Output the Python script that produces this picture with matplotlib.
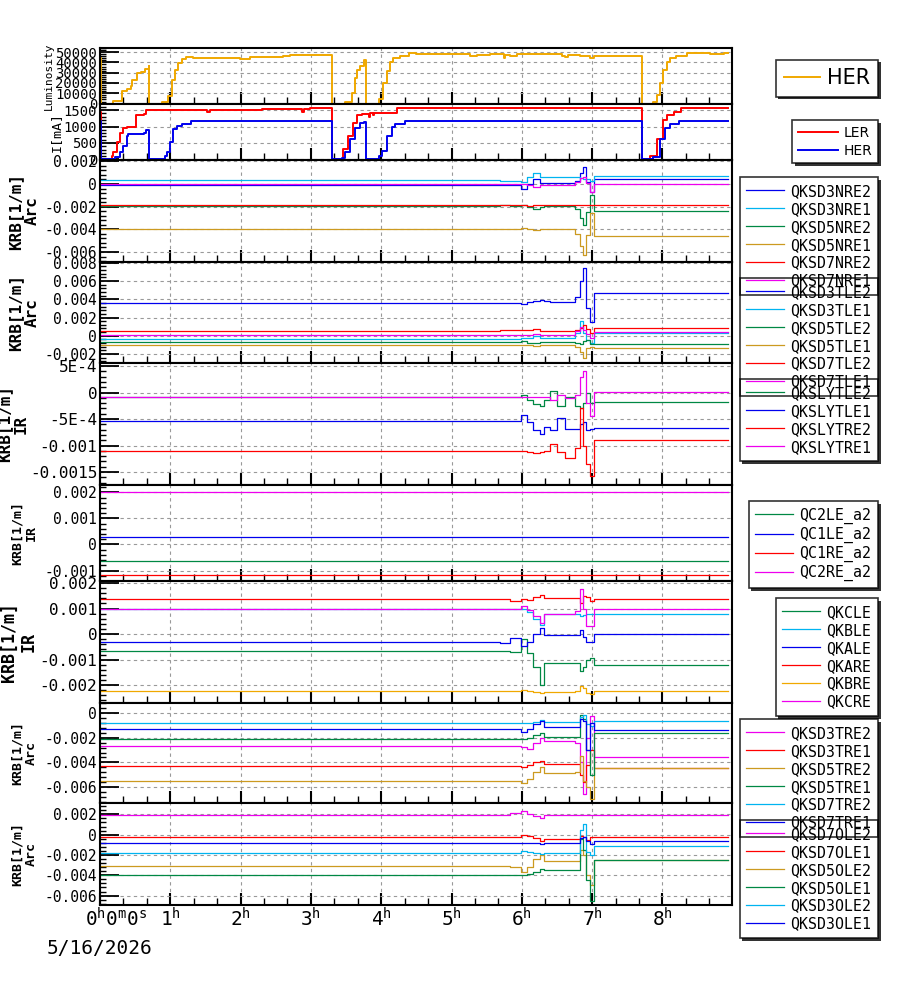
import matplotlib
matplotlib.use('Agg')
import matplotlib.pyplot as plt
from matplotlib.patches import Rectangle
from matplotlib.ticker import MultipleLocator, AutoMinorLocator, FuncFormatter
from matplotlib.transforms import ScaledTranslation
import numpy as np

plt.rcParams['font.family'] = ['DejaVu Sans Mono', 'DejaVu Sans']

BLUE = '#0000ee'
CYAN = '#00b4f0'
GREEN = '#008844'
GOLD = '#cc9a20'
ORANGE = '#f0a800'
RED = '#ff0000'
MAGENTA = '#ee00ee'

# ---- luminosity and beam currents (time in hours)
LUM_T = [0.00, 0.01, 0.19, 0.31, 0.38, 0.44, 0.46, 0.52, 0.59, 0.64, 0.69, 0.70,
         0.88, 0.97, 1.02, 1.07, 1.11, 1.16, 1.23, 1.33, 1.99, 2.13, 2.61, 2.70,
         3.30, 3.49, 3.58, 3.63, 3.65, 3.70, 3.75, 3.78, 3.97, 4.03, 4.08, 4.13,
         4.17, 4.27, 4.39, 4.50, 5.03, 5.26, 5.36, 5.55, 5.74, 5.76, 5.83, 5.93,
         6.57, 6.61, 6.66, 6.83, 6.97, 7.02, 7.71, 7.87, 7.92, 7.97, 8.01, 8.06,
         8.11, 8.20, 8.35, 8.68, 8.87, 8.93]
LUM_V = [44000, 0, 2700, 12000, 14500, 17000, 23000, 30000, 31000, 33500, 37000, 0,
         2000, 7400, 23000, 33000, 39000, 43000, 45500, 44200, 43200, 45200, 46400, 47400,
         0, 2000, 10000, 25000, 33000, 37000, 42000, 0, 4000, 20000, 32000, 40000,
         44000, 46000, 49300, 48300, 47800, 46000, 47000, 47800, 44000, 47500, 46500, 47800,
         46500, 45000, 47000, 46500, 44000, 46500, 0, 2000, 8000, 20000, 33000, 40000,
         44000, 46000, 49000, 48300, 49000, 49000]

LER_T = [0.00, 0.01, 0.17, 0.19, 0.24, 0.28, 0.33, 0.38, 0.51, 0.62, 0.66, 1.52,
         1.56, 2.30, 2.88, 2.90, 2.99, 3.30, 3.41, 3.46, 3.53, 3.60, 3.65, 3.72,
         3.83, 3.84, 3.88, 3.90, 4.22, 7.71, 7.82, 7.92, 8.01, 8.06, 8.16, 8.27, 8.93]
LER_V = [1450, 0, 100, 230, 520, 815, 965, 1000, 1360, 1390, 1500, 1440,
         1500, 1530, 1460, 1530, 1560, 0, 0, 320, 715, 1110, 1360, 1380,
         1280, 1430, 1360, 1430, 1560, 0, 100, 615, 1210, 1360, 1460, 1560, 1560]

HER_T = [0.00, 0.01, 0.21, 0.28, 0.33, 0.38, 0.40, 0.62, 0.66, 0.70, 0.92, 0.95,
         1.00, 1.04, 1.09, 1.16, 1.30, 3.30, 3.44, 3.49, 3.56, 3.63, 3.70, 3.76,
         3.78, 3.97, 4.01, 4.08, 4.15, 4.20, 4.34, 7.71, 7.87, 7.97, 8.04, 8.11,
         8.23, 8.93]
HER_V = [1180, 0, 80, 230, 400, 715, 780, 800, 900, 0, 100, 230,
         520, 915, 1010, 1065, 1180, 0, 50, 220, 615, 965, 1110, 1130,
         0, 100, 250, 715, 990, 1090, 1180, 0, 80, 615, 965, 1090,
         1180, 1180]

# ---- skew quadrupole strengths KRB [1e-3 / m] on a common time grid
KT = [0.00, 5.69, 5.83, 5.99, 6.07, 6.16, 6.26, 6.31, 6.40, 6.50, 6.61, 6.76,
      6.83, 6.87, 6.92, 6.97, 7.02, 8.93]

NR_NAMES = ['QKSD3NRE2', 'QKSD3NRE1', 'QKSD5NRE2', 'QKSD5NRE1', 'QKSD7NRE2', 'QKSD7NRE1']
NR_VALS = [
    [-0.10, -0.10, -0.10, -0.40, 0.00, 0.40, 0.10, 0.10, 0.10, 0.10, 0.10, 0.30, 1.00, 1.50, 0.20, -0.70, 0.40, 0.40],
    [0.35, 0.30, 0.30, 0.20, 0.60, 1.00, 0.65, 0.65, 0.65, 0.65, 0.65, 0.60, 0.50, 0.45, 0.40, 0.30, 0.70, 0.70],
    [-1.92, -1.85, -1.92, -1.85, -2.00, -2.20, -2.00, -1.90, -1.90, -1.90, -1.90, -2.20, -3.00, -3.60, -2.50, -1.00, -2.40, -2.40],
    [-3.93, -3.93, -3.93, -3.88, -4.00, -4.10, -4.00, -3.95, -3.95, -3.95, -3.95, -4.40, -5.50, -6.30, -4.50, -2.60, -4.60, -4.60],
    [-1.88, -1.88, -1.88, -1.85, -1.90, -1.88, -1.88, -1.88, -1.88, -1.88, -1.88, -1.88, -1.88, -1.88, -1.88, -1.88, -1.88, -1.88],
    [0.00, 0.00, 0.00, 0.00, -0.10, -0.25, -0.05, -0.05, -0.05, -0.05, -0.05, 0.20, 0.50, 0.60, 0.10, -0.70, 0.00, 0.00],
]

TL_NAMES = ['QKSD3TLE2', 'QKSD3TLE1', 'QKSD5TLE2', 'QKSD5TLE1', 'QKSD7TLE2', 'QKSD7TLE1']
TL_VALS = [
    [3.56, 3.56, 3.56, 3.50, 3.65, 3.80, 3.95, 3.85, 3.72, 3.72, 3.72, 4.30, 6.00, 7.40, 3.00, 1.50, 4.68, 4.68],
    [-0.37, -0.37, -0.37, -0.30, -0.20, -0.05, -0.25, -0.20, -0.20, -0.20, -0.20, 0.30, 1.60, 0.30, -0.50, -0.80, 0.30, 0.30],
    [-0.64, -0.64, -0.64, -0.55, -0.75, -0.85, -0.70, -0.70, -0.70, -0.70, -0.70, -0.80, -0.90, -0.60, -0.50, -0.90, -0.86, -0.86],
    [-1.00, -1.00, -1.00, -1.00, -1.00, -1.10, -1.00, -1.00, -1.00, -1.00, -1.00, -1.20, -1.80, -2.40, -1.30, -1.20, -1.38, -1.38],
    [0.56, 0.60, 0.60, 0.60, 0.65, 0.75, 0.55, 0.55, 0.55, 0.55, 0.55, 0.60, 0.90, 1.20, 0.70, 0.30, 0.87, 0.87],
    [0.10, 0.10, 0.10, 0.10, 0.12, 0.15, 0.05, 0.05, 0.05, 0.05, 0.05, 0.50, 1.00, 0.60, 0.20, -0.30, 0.37, 0.37],
]

SLY_NAMES = ['QKSLYTLE2', 'QKSLYTLE1', 'QKSLYTRE2', 'QKSLYTRE1']
SLY_VALS = [
    [-0.08, -0.08, -0.08, -0.05, -0.15, -0.22, -0.26, -0.15, 0.02, -0.25, -0.08, -0.25, -0.30, -0.20, 0.00, -0.20, -0.18, -0.18],
    [-0.54, -0.54, -0.54, -0.43, -0.55, -0.70, -0.79, -0.65, -0.70, -0.49, -0.68, -0.68, -0.60, -0.55, -0.70, -0.68, -0.67, -0.67],
    [-1.11, -1.11, -1.11, -1.11, -1.12, -1.15, -1.13, -1.10, -0.98, -1.12, -1.23, -1.04, -0.29, -1.00, -1.35, -1.58, -0.89, -0.89],
    [-0.08, -0.08, -0.08, -0.08, -0.08, -0.08, -0.08, -0.08, -0.15, -0.05, -0.10, -0.05, 0.30, 0.40, -0.20, -0.45, 0.01, 0.01],
]

QC_T = [0.00, 8.93]
QC_NAMES = ['QC2LE_a2', 'QC1LE_a2', 'QC1RE_a2', 'QC2RE_a2']
QC_VALS = [[-0.65, -0.65], [0.28, 0.28], [-1.18, -1.18], [2.01, 2.01]]

QK_NAMES = ['QKCLE', 'QKBLE', 'QKALE', 'QKARE', 'QKBRE', 'QKCRE']
QK_VALS = [
    [-0.67, -0.65, -0.70, -0.20, -0.75, -1.30, -2.00, -1.12, -1.12, -1.12, -1.12, -1.12, -1.45, -1.30, -1.00, -0.95, -1.22, -1.22],
    [1.00, 1.00, 1.00, 1.00, 0.85, 0.60, 0.35, 0.78, 0.78, 0.78, 0.78, 0.78, 0.72, 0.75, 0.80, 0.80, 0.77, 0.77],
    [-0.30, -0.35, -0.15, -0.45, -0.30, 0.00, 0.25, -0.05, -0.05, -0.05, -0.05, -0.05, 0.15, -0.10, -0.30, -0.30, 0.00, 0.00],
    [1.36, 1.36, 1.30, 1.38, 1.35, 1.45, 1.55, 1.40, 1.40, 1.40, 1.40, 1.40, 1.20, 1.50, 1.45, 1.30, 1.36, 1.36],
    [-2.22, -2.22, -2.22, -2.18, -2.22, -2.28, -2.32, -2.25, -2.25, -2.25, -2.25, -2.22, -2.05, -2.10, -2.30, -2.35, -2.22, -2.22],
    [1.00, 1.00, 1.00, 1.10, 0.95, 0.70, 0.45, 0.78, 0.78, 0.78, 0.78, 0.90, 1.75, 1.00, 0.30, 0.30, 1.00, 1.00],
]

TR_NAMES = ['QKSD3TRE2', 'QKSD3TRE1', 'QKSD5TRE2', 'QKSD5TRE1', 'QKSD7TRE2', 'QKSD7TRE1']
TR_VALS = [
    [-2.64, -2.65, -2.65, -2.75, -2.90, -2.40, -2.00, -2.30, -2.30, -2.30, -2.30, -2.40, -4.00, -6.60, -2.00, -0.20, -3.60, -3.60],
    [-4.28, -4.28, -4.28, -4.35, -4.20, -4.00, -3.90, -4.10, -4.10, -4.10, -4.10, -4.10, -5.00, -5.60, -4.20, -3.00, -4.50, -4.50],
    [-5.50, -5.50, -5.50, -5.70, -5.40, -4.80, -4.40, -4.85, -4.85, -4.85, -4.85, -4.80, -3.50, -5.50, -6.00, -7.00, -4.50, -4.50],
    [-2.12, -2.12, -2.12, -2.10, -2.00, -1.80, -1.60, -1.95, -1.95, -1.95, -1.95, -1.90, -0.10, -0.50, -3.00, -5.00, -1.60, -1.60],
    [-0.82, -0.82, -0.82, -0.80, -0.80, -0.70, -0.52, -0.75, -0.75, -0.75, -0.75, -0.70, -0.30, -0.10, -0.90, -1.00, -0.65, -0.65],
    [-1.28, -1.30, -1.30, -1.55, -1.30, -0.90, -0.60, -1.10, -1.10, -1.10, -1.10, -1.10, -0.50, -0.60, -3.00, -0.80, -1.40, -1.40],
]

OL_NAMES = ['QKSD7OLE2', 'QKSD7OLE1', 'QKSD5OLE2', 'QKSD5OLE1', 'QKSD3OLE2', 'QKSD3OLE1']
OL_VALS = [
    [1.94, 1.94, 2.15, 2.35, 2.00, 1.85, 1.62, 1.94, 1.94, 1.94, 1.94, 1.94, 1.94, 1.94, 1.94, 1.94, 1.94, 1.94],
    [-0.20, -0.20, -0.20, -0.05, -0.15, -0.30, -0.65, -0.45, -0.45, -0.45, -0.45, -0.45, -0.10, -0.20, -0.50, -0.20, -0.20, -0.20],
    [-3.08, -3.10, -3.15, -3.70, -3.20, -2.40, -2.00, -2.60, -2.60, -2.60, -2.60, -2.60, -1.50, -2.00, -4.00, -5.00, -2.50, -2.50],
    [-3.97, -3.97, -3.97, -3.95, -3.85, -3.65, -3.35, -3.50, -3.50, -3.50, -3.50, -3.50, -0.40, -1.50, -4.50, -6.50, -2.50, -2.50],
    [-1.84, -1.84, -1.84, -1.65, -1.75, -1.85, -1.95, -1.80, -1.80, -1.80, -1.80, -1.80, 0.50, 1.10, -1.70, -2.00, -1.10, -1.10],
    [-0.85, -0.85, -0.85, -0.85, -0.85, -0.85, -0.90, -0.85, -0.85, -0.85, -0.85, -0.85, -0.30, -0.20, -0.60, -0.90, -0.60, -0.60],
]

W, H = 900, 984
fig = plt.figure(figsize=(W / 100, H / 100), dpi=100)
LEFT, RIGHT = 100, 732
EDGES = [48, 104, 160, 262, 363, 485, 581, 703, 803, 905]
legends = []


def krb_fmt(v, pos):
    if abs(v) < 1e-12:
        return '0'
    if abs(v) < 1e-3 - 1e-12:
        e = int(np.floor(np.log10(abs(v))))
        return '%gE%d' % (round(v / 10 ** e, 3), e)
    return '%g' % round(v, 6)


def make_ax(i):
    top, bot = EDGES[i], EDGES[i + 1]
    ax = fig.add_axes([LEFT / W, 1 - bot / H, (RIGHT - LEFT) / W, (bot - top) / H])
    ax.set_xlim(0, 8.99)
    ax.xaxis.set_major_locator(MultipleLocator(1))
    ax.xaxis.set_minor_locator(MultipleLocator(1 / 3))
    ax.tick_params(which='both', direction='in', top=False, right=False, labelbottom=False)
    ax.tick_params(axis='y', which='major', length=14, width=1.3, pad=2)
    ax.tick_params(axis='y', which='minor', length=4.5, width=1.0)
    ax.tick_params(axis='x', which='major', length=8.5, width=1.5)
    ax.tick_params(axis='x', which='minor', length=5, width=1.0)
    for s in ax.spines.values():
        s.set_linewidth(1.5)
    ax.grid(True, which='major', color='#999999', linestyle=(0, (3, 3)), linewidth=0.8)
    return ax


def add_legend(ax, top_px, size, family='DejaVu Sans Mono', **kw):
    opts = dict(labelspacing=0.2, borderpad=0.45, handlelength=2.55, handletextpad=0.4)
    opts.update(kw)
    leg = ax.legend(loc='upper right', bbox_to_anchor=(878 / W, 1 - top_px / H),
                    bbox_transform=fig.transFigure, borderaxespad=0, fancybox=False,
                    prop={'family': family, 'size': size}, **opts)
    fr = leg.get_frame()
    fr.set_facecolor('none')
    fr.set_edgecolor('black')
    fr.set_linewidth(1.2)
    legends.append(leg)


def krb_panel(i, names, vals, colors, lim, step, label, lsize, lx, tsize, leg_top):
    ax = make_ax(i)
    for name, v, c in zip(names, vals, colors):
        ax.plot(KT if len(v) == len(KT) else QC_T, np.array(v) * 1e-3, color=c, lw=0.9,
                drawstyle='steps-post', label=name)
    ax.set_ylim(lim[0] * 1e-3, lim[1] * 1e-3)
    ax.yaxis.set_major_locator(MultipleLocator(step))
    ax.yaxis.set_minor_locator(AutoMinorLocator(5))
    ax.yaxis.set_major_formatter(FuncFormatter(krb_fmt))
    ax.tick_params(axis='y', labelsize=tsize)
    ax.set_ylabel(label, fontsize=lsize, fontweight='bold', linespacing=1.1)
    ax.yaxis.set_label_coords(lx, 0.5)
    add_legend(ax, leg_top, 10.7)
    return ax


# luminosity
ax1 = make_ax(0)
ax1.plot(LUM_T, LUM_V, color=ORANGE, lw=1.4, drawstyle='steps-post', label='HER')
ax1.set_ylim(-400, 54000)
ax1.yaxis.set_major_locator(MultipleLocator(10000))
ax1.yaxis.set_minor_locator(AutoMinorLocator(5))
ax1.tick_params(axis='y', labelsize=10)
ax1.set_ylabel('Luminosity', fontsize=8)
ax1.yaxis.set_label_coords(-0.073, 0.5)
add_legend(ax1, 60, 15, family='DejaVu Sans', borderpad=0.4, handlelength=1.75,
           handletextpad=0.3)

# currents
ax2 = make_ax(1)
ax2.plot(LER_T, LER_V, color=RED, lw=1.4, drawstyle='steps-post', label='LER')
ax2.plot(HER_T, HER_V, color=BLUE, lw=1.4, drawstyle='steps-post', label='HER')
ax2.set_ylim(-20, 1690)
ax2.yaxis.set_major_locator(MultipleLocator(500))
ax2.yaxis.set_minor_locator(AutoMinorLocator(5))
ax2.tick_params(axis='y', labelsize=10)
ax2.set_ylabel('I[mA]', fontsize=9.5)
ax2.yaxis.set_label_coords(-0.0585, 0.5)
add_legend(ax2, 120, 10, family='DejaVu Sans', labelspacing=0.3, borderpad=0.4,
           handlelength=2.88, handletextpad=0.43)

krb_panel(2, NR_NAMES, NR_VALS, [BLUE, CYAN, GREEN, GOLD, RED, MAGENTA],
          (-6.88, 2.12), 0.002, 'KRB[1/m]\nArc', 11.5, -0.096, 10.5, 177)
krb_panel(3, TL_NAMES, TL_VALS, [BLUE, CYAN, GREEN, GOLD, RED, MAGENTA],
          (-2.99, 8.09), 0.002, 'KRB[1/m]\nArc', 11.5, -0.096, 10.5, 278)
krb_panel(4, SLY_NAMES, SLY_VALS, [GREEN, BLUE, RED, MAGENTA],
          (-1.745, 0.557), 0.0005, 'KRB[1/m]\nIR', 11.5, -0.113, 11.5, 379)
krb_panel(5, QC_NAMES, QC_VALS, [GREEN, BLUE, RED, MAGENTA],
          (-1.40, 2.28), 0.001, 'KRB[1/m]\nIR', 9.5, -0.098, 10.5, 501)
krb_panel(6, QK_NAMES, QK_VALS, [GREEN, CYAN, BLUE, RED, ORANGE, MAGENTA],
          (-2.70, 2.08), 0.001, 'KRB[1/m]\nIR', 12, -0.099, 11.5, 598)
krb_panel(7, TR_NAMES, TR_VALS, [MAGENTA, RED, GOLD, GREEN, CYAN, BLUE],
          (-7.32, 0.84), 0.002, 'KRB[1/m]\nArc', 9.5, -0.098, 10.5, 719)
ax9 = krb_panel(8, OL_NAMES, OL_VALS, [MAGENTA, RED, GOLD, GREEN, CYAN, BLUE],
                (-6.93, 3.12), 0.002, 'KRB[1/m]\nArc', 9.5, -0.098, 10.5, 820)


def hour_fmt(v, pos):
    h = int(round(v))
    if h == 0:
        return r'$\mathregular{0^h0^m0^s}$'
    return r'$\mathregular{%d^h}$' % h


ax9.xaxis.set_major_formatter(FuncFormatter(hour_fmt))
ax9.tick_params(axis='x', labelbottom=True, labelsize=14, pad=2)
# the first time label sits to the right of its tick
locs = ax9.xaxis.get_majorticklocs()
for tick, loc in zip(ax9.xaxis.get_major_ticks(len(locs)), locs):
    if abs(loc) < 1e-9:
        lab = tick.label1
        lab.set_transform(lab.get_transform() + ScaledTranslation(0.16, 0, fig.dpi_scale_trans))
fig.text(100 / W, 1 - 948 / H, '5/16/2026', ha='center', va='center', fontsize=14)

# shadows behind the (transparent) legend frames
fig.canvas.draw()
renderer = fig.canvas.get_renderer()
for leg in legends:
    bb = leg.get_frame().get_window_extent(renderer)
    x0, y0 = bb.x0 / W, bb.y0 / H
    w, h = bb.width / W, bb.height / H
    fig.add_artist(Rectangle((x0 + 2.5 / W, y0 - 2.5 / H), w, h, transform=fig.transFigure,
                             facecolor='#333333', edgecolor='none', zorder=-2))
for leg in legends:
    bb = leg.get_frame().get_window_extent(renderer)
    fig.add_artist(Rectangle((bb.x0 / W, bb.y0 / H), bb.width / W, bb.height / H,
                             transform=fig.transFigure, facecolor='white',
                             edgecolor='none', zorder=-1))

fig.savefig('out.png', dpi=100)
